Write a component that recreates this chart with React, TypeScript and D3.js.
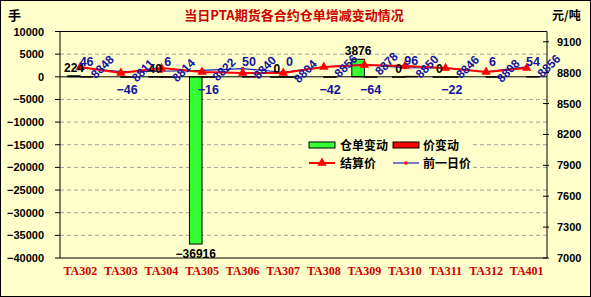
import React from "react";
import * as d3 from "d3";

// Contracts on the category axis
const categories = ["TA302", "TA303", "TA304", "TA305", "TA306", "TA307", "TA308", "TA309", "TA310", "TA311", "TA312", "TA401"];
// 仓单变动 (warrant change, lots) — left axis; null where nothing was reported
const warrantChange: (number | null)[] = [224, null, 40, -36916, null, 0, null, 3876, 0, 0, null, null];
// 价变动 (price change, yuan/ton) — left axis
const priceChange = [46, -46, 6, -16, 50, 0, -42, -64, 96, -22, 6, 54];
// 结算价 (settlement price) — right axis
const settlePrice = [8855, 8797, 8845, 8807, 8797, 8797, 8855, 8875, 8865, 8845, 8807, 8845];
// 前一日价 (previous day price) — right axis
const prevPrice = [8848, 8811, 8814, 8822, 8840, 8804, 8856, 8878, 8850, 8846, 8808, 8856];

const leftTicks = [10000, 5000, 0, -5000, -10000, -15000, -20000, -25000, -30000, -35000, -40000];
const rightTicks = [7000, 7300, 7600, 7900, 8200, 8500, 8800, 9100];

const W = 591;
const H = 297;
const plot = { left: 60, right: 547, top: 31.5, bottom: 258 };
const BG = "#FFFFCC";
const NUM_FONT = "'Liberation Sans', Arial, sans-serif";
const CJK_FONT = "'Noto Sans CJK SC', sans-serif";
const LABEL_BLUE = "#14149E";

export default function App() {
  const x = d3.scaleBand<string>().domain(categories).range([plot.left, plot.right]).paddingInner(0).paddingOuter(0);
  const yL = d3.scaleLinear().domain([-40000, 10000]).range([plot.bottom, plot.top]);
  const yR = d3.scaleLinear().domain([7000, 9200]).range([plot.bottom, plot.top]);
  const fmt = d3.format("d");
  const bw = x.bandwidth() * 0.31;
  const cx = (c: string) => (x(c) as number) + x.bandwidth() / 2;

  const settleLine = d3.line<number>().x((_, i) => cx(categories[i])).y((d) => yR(d));
  const prevLine = d3.line<number>().x((_, i) => cx(categories[i])).y((d) => yR(d));
  const tri = d3.symbol().type(d3.symbolTriangle).size(38)();

  return (
    <svg width={W} height={H} style={{ position: "absolute", left: 0, top: 0 }}>
      <rect x={0.5} y={0.5} width={W - 1} height={H - 1} fill={BG} stroke="#000" />

      {/* titles */}
      <text x={294} y={20} textAnchor="middle" fontFamily={CJK_FONT} fontWeight={700} fontSize={13} fill="#CC0000">
        当日PTA期货各合约仓单增减变动情况
      </text>
      <text x={8} y={20} fontFamily={CJK_FONT} fontWeight={700} fontSize={13} fill="#000">手</text>
      <text x={552} y={20} fontFamily={CJK_FONT} fontWeight={700} fontSize={12} fill="#000">元/吨</text>

      {/* grid */}
      {leftTicks.filter((t) => t !== 10000 && t !== -40000 && t !== 0).map((t) => (
        <line key={t} x1={plot.left} x2={plot.right} y1={yL(t)} y2={yL(t)} stroke="#A0A0A0" strokeDasharray="4,3" strokeWidth={1} />
      ))}

      {/* legend backdrop */}
      <rect x={304} y={134} width={168} height={38} fill={BG} />

      {/* plot frame */}
      <line x1={plot.left} x2={plot.right} y1={plot.top} y2={plot.top} stroke="#000" />
      <line x1={plot.left} x2={plot.right} y1={plot.bottom} y2={plot.bottom} stroke="#000" />
      <line x1={plot.left} x2={plot.left} y1={plot.top} y2={plot.bottom} stroke="#000" />
      <line x1={plot.right} x2={plot.right} y1={plot.top} y2={plot.bottom} stroke="#000" />

      {/* left axis */}
      {leftTicks.map((t) => (
        <g key={t}>
          <line x1={plot.left - 5} x2={plot.left} y1={yL(t)} y2={yL(t)} stroke="#000" />
          <text x={44} y={yL(t) + 4} textAnchor="end" fontFamily={NUM_FONT} fontWeight={700} fontSize={11} fill="#000">
            {fmt(t)}
          </text>
        </g>
      ))}

      {/* right axis */}
      {rightTicks.map((t) => (
        <g key={t}>
          <line x1={plot.right - 4} x2={plot.right + 2} y1={yR(t)} y2={yR(t)} stroke="#000" />
          <text x={557} y={yR(t) + 4} fontFamily={NUM_FONT} fontWeight={700} fontSize={11} fill="#000">
            {t}
          </text>
        </g>
      ))}

      {/* category labels */}
      {categories.map((c) => (
        <text key={c} x={cx(c)} y={275} textAnchor="middle" fontFamily="'Liberation Serif', serif" fontWeight={700} fontSize={12} fill="#CC0000">
          {c}
        </text>
      ))}

      {/* bars */}
      {categories.map((c, i) => {
        const v = warrantChange[i];
        const p = priceChange[i];
        const y0 = yL(0);
        return (
          <g key={c}>
            {v !== null && (
              <rect x={cx(c) - bw} y={Math.min(yL(v), y0)} width={bw} height={Math.max(Math.abs(yL(v) - y0), 0.5)} fill="#33FF33" stroke="#000" strokeWidth={1} />
            )}
            <rect x={cx(c)} y={Math.min(yL(p), y0)} width={bw} height={Math.max(Math.abs(yL(p) - y0), 0.5)} fill="#FF0000" stroke="#000" strokeWidth={1} />
          </g>
        );
      })}

      {/* zero line */}
      <line x1={plot.left} x2={plot.right} y1={yL(0)} y2={yL(0)} stroke="#000" />

      {/* price lines */}
      <path d={prevLine(prevPrice) || ""} fill="none" stroke="#2020C0" strokeWidth={1.2} />
      {prevPrice.map((v, i) => (
        <rect key={i} x={cx(categories[i]) - 1.5} y={yR(v) - 1.5} width={3} height={3} fill="#FF0000" />
      ))}
      <path d={settleLine(settlePrice) || ""} fill="none" stroke="#FF0000" strokeWidth={2} />
      {settlePrice.map((v, i) => (
        <path key={i} d={tri || ""} transform={`translate(${cx(categories[i])},${yR(v)})`} fill="#FF0000" />
      ))}

      {/* warrant change labels */}
      {categories.map((c, i) => {
        const v = warrantChange[i];
        if (v === null) return null;
        const y = v < 0 ? yL(v) + 14 : yL(v) - 4;
        return (
          <text key={c} x={cx(c) - bw / 2} y={y} textAnchor="middle" fontFamily={NUM_FONT} fontWeight={700} fontSize={12} fill="#000">
            {fmt(v)}
          </text>
        );
      })}

      {/* price change labels */}
      {categories.map((c, i) => {
        const v = priceChange[i];
        const y = v < 0 ? yL(v) + 17 : yL(v) - 11;
        return (
          <text key={c} x={cx(c) + bw / 2} y={y} textAnchor="middle" fontFamily={NUM_FONT} fontWeight={700} fontSize={12.5} fill={LABEL_BLUE}>
            {fmt(v)}
          </text>
        );
      })}

      {/* previous price labels */}
      {categories.map((c, i) => (
        <text
          key={c}
          transform={`translate(${cx(c) + 22},${yR(prevPrice[i]) - 1}) rotate(-45)`}
          textAnchor="middle"
          dy="0.35em"
          fontFamily={NUM_FONT}
          fontWeight={700}
          fontSize={12}
          fill={LABEL_BLUE}
        >
          {prevPrice[i]}
        </text>
      ))}

      {/* legend */}
      <g fontFamily={CJK_FONT} fontWeight={700} fontSize={12} fill="#000">
        <rect x={309} y={142} width={26} height={6} fill="#33FF33" stroke="#000" />
        <text x={340} y={149.5}>仓单变动</text>
        <rect x={393} y={142} width={26} height={6} fill="#FF0000" stroke="#000" />
        <text x={423} y={149.5}>价变动</text>
        <line x1={309} x2={335} y1={163} y2={163} stroke="#FF0000" strokeWidth={2} />
        <path d={tri || ""} transform="translate(322,163)" fill="#FF0000" />
        <text x={340} y={167.5}>结算价</text>
        <line x1={393} x2={419} y1={163} y2={163} stroke="#2020C0" strokeWidth={1.2} />
        <rect x={404.5} y={161.5} width={3} height={3} fill="#FF0000" />
        <text x={423} y={167.5}>前一日价</text>
      </g>
    </svg>
  );
}
